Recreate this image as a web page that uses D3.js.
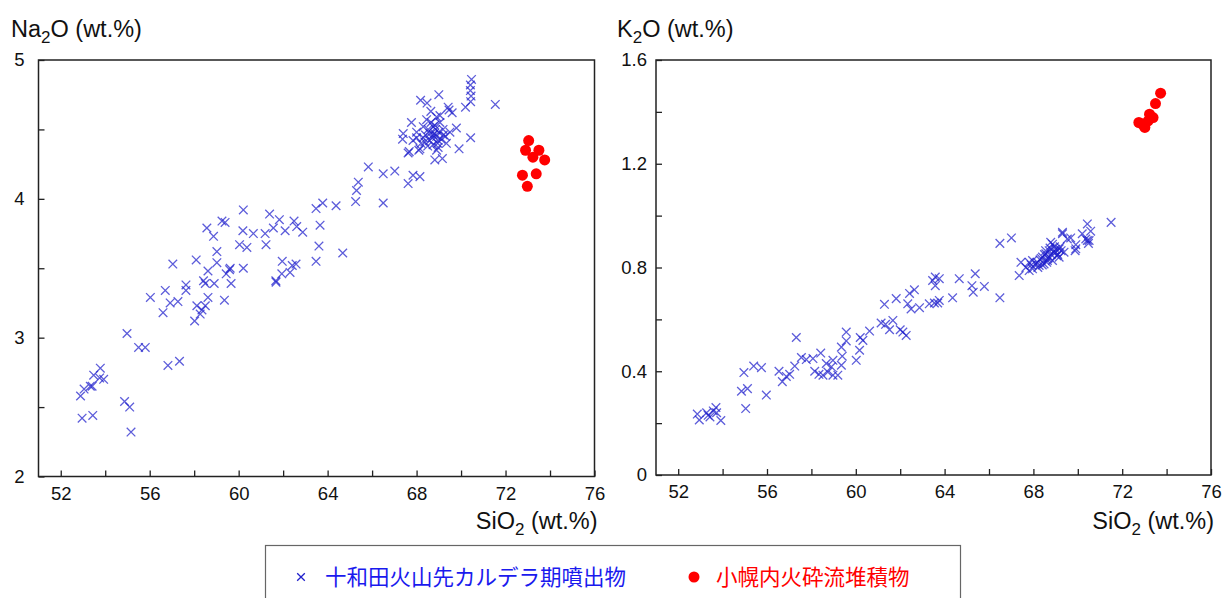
<!DOCTYPE html>
<html><head><meta charset="utf-8">
<script src="https://cdn.jsdelivr.net/npm/d3@7"></script>
<style>
html,body{margin:0;padding:0;background:#fff;}
svg text{font-family:"Liberation Sans",Arial,sans-serif;}
.jp{font-family:"Noto Sans CJK JP","Noto Sans CJK SC",sans-serif;}
</style></head>
<body><svg id="c" width="1225" height="598"></svg>
<script>
// ---- data ----
const siDomain = [51, 76];
const siTicks = [52,54,56,58,60,62,64,66,68,70,72,74,76];
const naDomain = [2, 5];
const naTicks = [2,2.5,3,3.5,4,4.5,5];
const kDomain = [0, 1.6];
const kTicks = [0,0.2,0.4,0.6,0.8,1.0,1.2,1.4,1.6];
const seriesNames = ["十和田火山先カルデラ期噴出物", "小幌内火砕流堆積物"];

// Towada pre-caldera ejecta: [SiO2, Na2O]
const towadaNa = [
[52.89,2.58],[53.05,2.63],[53.33,2.65],[53.41,2.65],[53.48,2.73],[53.78,2.78],[53.75,2.71],[53.93,2.70],
[52.96,2.42],[53.44,2.44],[54.87,2.54],[55.1,2.50],[55.16,2.32],[54.98,3.03],[55.5,2.93],[55.8,2.93],
[56.82,2.80],[57.34,2.83],[56.03,3.29],[56.6,3.18],[56.7,3.34],[56.92,3.25],[57.27,3.26],[57.04,3.53],
[57.63,3.38],[57.63,3.34],[58.09,3.56],[58.02,3.12],[58.12,3.23],[58.35,3.20],[58.27,3.17],[58.5,3.23],
[58.62,3.29],[58.42,3.41],[58.5,3.39],[58.9,3.39],[58.62,3.48],[59.02,3.54],[59.02,3.62],[59.36,3.27],
[59.44,3.46],[59.59,3.49],[59.66,3.39],[60.21,3.50],[61.67,3.41],[61.96,3.55],[61.94,3.46],[62.31,3.47],
[62.41,3.52],[62.58,3.53],[63.48,3.55],[58.57,3.79],[58.87,3.73],[59.25,3.84],[59.39,3.83],[60.21,3.92],
[60.19,3.77],[60.04,3.67],[60.37,3.65],[60.66,3.75],[59.62,3.50],[61.39,3.89],[61.83,3.85],[61.56,3.79],
[61.19,3.75],[61.23,3.67],[62.09,3.77],[62.49,3.84],[62.61,3.80],[62.88,3.76],[61.68,3.40],[63.48,3.93],
[63.78,3.97],[63.66,3.81],[63.61,3.66],[64.68,3.61],[64.38,3.95],[65.26,3.98],[65.30,4.06],[65.38,4.12],
[65.83,4.23],[66.5,4.18],[66.5,3.97],[67.02,4.20],[67.62,4.11],[67.84,4.17],[68.15,4.16],[67.62,4.33],
[70.47,4.86],[70.42,4.82],[70.42,4.78],[70.45,4.74],[70.43,4.70],[70.2,4.66],[71.54,4.68],[69.0,4.75],
[68.18,4.71],[68.47,4.69],[69.42,4.66],[69.46,4.64],[68.64,4.63],[67.77,4.55],[67.40,4.47],[67.37,4.43],
[67.67,4.34],[68.0,4.44],[68.3,4.52],[68.45,4.57],[68.82,4.53],[69.05,4.55],[69.19,4.50],[69.34,4.40],
[68.97,4.37],[68.82,4.28],[69.16,4.29],[68.15,4.36],[69.79,4.51],[69.91,4.36],[70.43,4.44],[68.59,4.42],
[68.74,4.46],[68.97,4.42],[68.37,4.41],[68.52,4.50],[68.9,4.59],[68.74,4.39],[67.84,4.42],
[68.8,4.47],[68.9,4.45],[68.7,4.44],[69.0,4.48],[68.85,4.50],[68.6,4.47],[69.1,4.43],[68.95,4.40],
[68.75,4.52],[69.2,4.46],[68.5,4.38],[68.4,4.46],[68.65,4.55],[69.05,4.60],[68.9,4.35],[69.3,4.45],
[68.3,4.44],[68.2,4.40],[68.0,4.48],[68.1,4.35],[69.6,4.62],[69.5,4.48]
];
// Towada pre-caldera ejecta: [SiO2, K2O]
const towadaK = [
[52.86,0.235],[52.95,0.212],[53.28,0.24],[53.35,0.23],[53.43,0.224],[53.58,0.247],[53.70,0.26],[53.73,0.24],
[53.92,0.21],[54.96,0.395],[54.85,0.323],[55.12,0.333],[55.04,0.256],[55.4,0.42],[55.75,0.414],[55.97,0.308],
[56.54,0.40],[56.69,0.36],[56.87,0.38],[57.02,0.388],[57.25,0.42],[57.32,0.53],[57.55,0.453],[57.77,0.445],
[58.07,0.449],[58.15,0.40],[58.42,0.47],[58.34,0.388],[58.52,0.385],[58.67,0.43],[58.74,0.397],[58.97,0.442],
[58.90,0.417],[58.97,0.385],[59.19,0.385],[59.35,0.423],[59.39,0.458],[59.35,0.493],[59.57,0.517],[59.57,0.551],
[60.02,0.442],[60.17,0.481],[60.20,0.53],[60.32,0.519],[60.62,0.555],[61.14,0.586],[61.34,0.581],[61.52,0.56],
[61.67,0.596],[61.29,0.658],[61.82,0.68],[62.0,0.56],[62.27,0.538],[62.12,0.551],[62.34,0.66],[62.42,0.70],
[62.64,0.714],[62.49,0.64],[62.87,0.645],[63.46,0.75],[63.58,0.763],[63.54,0.663],[63.69,0.663],[63.31,0.66],
[63.76,0.673],[63.58,0.73],[64.36,0.683],[64.66,0.757],[65.38,0.776],[65.23,0.73],[65.29,0.705],[65.79,0.727],
[66.49,0.683],[66.49,0.893],[67.01,0.914],[67.36,0.769],[67.44,0.82],[67.66,0.80],[67.81,0.788],[67.96,0.827],
[68.18,0.82],[68.41,0.84],[68.56,0.853],[68.71,0.865],[68.86,0.89],[69.01,0.859],[69.16,0.872],[69.31,0.93],
[69.53,0.91],[69.91,0.872],[70.2,0.93],[70.43,0.904],[68.26,0.808],[67.96,0.795],[68.63,0.827],[68.86,0.827],
[67.81,0.82],[68.48,0.814],[68.78,0.897],[69.16,0.84],[69.38,0.859],[70.43,0.968],[71.5,0.974],[70.58,0.94],
[70.36,0.91],[69.88,0.865],[69.91,0.888],[69.68,0.914],[69.31,0.936],[70.51,0.904],[70.48,0.893],[63.76,0.757],
[68.3,0.83],[68.5,0.85],[68.7,0.84],[68.9,0.86],[69.0,0.87],[68.6,0.82],[68.4,0.81],[68.8,0.85],
[69.1,0.85],[68.95,0.88],[68.2,0.80],[68.1,0.815],[68.65,0.835],[69.2,0.88],[68.55,0.865],[69.05,0.845],
[68.35,0.835],[68.75,0.875],[67.9,0.81],[69.25,0.865]
];
// Kohoronai pyroclastic flow deposit
const kohoronaiNa = [[73.04,4.42],[72.9,4.35],[73.5,4.35],[73.23,4.30],[73.76,4.28],[72.76,4.17],[73.38,4.18],[72.98,4.09]];
const kohoronaiK = [[73.73,1.472],[73.5,1.432],[73.23,1.391],[73.39,1.378],[72.75,1.359],[72.9,1.353],[73.02,1.34],[73.17,1.365]];

// ---- drawing ----
const svg = d3.select("#c");
const blue = "#1f1fcc", red = "#ff0000";

function panel(cfg){
  const {x0,x1,y0,y1} = cfg;
  const x = d3.scaleLinear().domain(siDomain).range([x0,x1]);
  const y = d3.scaleLinear().domain(cfg.yDomain).range([y1,y0]);
  const g = svg.append("g");
  g.append("rect").attr("x",x0).attr("y",y0).attr("width",x1-x0).attr("height",y1-y0)
    .attr("fill","none").attr("stroke","#222").attr("stroke-width",1.5);
  const xa = g.append("g").attr("transform",`translate(0,${y1})`)
    .call(d3.axisBottom(x).tickValues(siTicks).tickSizeInner(-6).tickSizeOuter(0).tickPadding(10)
      .tickFormat(d => d % 4 === 0 ? d : ""));
  xa.select(".domain").remove();
  xa.selectAll("line").attr("stroke","#222").attr("stroke-width",1.3);
  xa.selectAll("text").attr("font-size",18.5).attr("fill","#111").attr("font-family","Liberation Sans, Arial, sans-serif");
  const ya = g.append("g").attr("transform",`translate(${x0},0)`)
    .call(d3.axisLeft(y).tickValues(cfg.yTicks).tickSizeInner(-6).tickSizeOuter(0).tickPadding(cfg.yPad)
      .tickFormat(cfg.yFmt));
  ya.select(".domain").remove();
  ya.selectAll("line").attr("stroke","#222").attr("stroke-width",1.3);
  ya.selectAll("text").attr("font-size",18.5).attr("fill","#111").attr("font-family","Liberation Sans, Arial, sans-serif");
  const yt = g.append("text").attr("x",cfg.titleX).attr("y",37).attr("font-size",23.5).attr("fill","#111");
  yt.append("tspan").text(cfg.elem);
  yt.append("tspan").attr("font-size",17).attr("dy",6).text("2");
  yt.append("tspan").attr("dy",-6).text("O (wt.%)");
  const xt = g.append("text").attr("x",x1+3).attr("y",529).attr("text-anchor","end").attr("font-size",23.5).attr("fill","#111");
  xt.append("tspan").text("SiO");
  xt.append("tspan").attr("font-size",17).attr("dy",6).text("2");
  xt.append("tspan").attr("dy",-6).text(" (wt.%)");
  const s = 4.3;
  g.append("g").selectAll("path").data(cfg.blue).join("path")
    .attr("d", d => { const px=x(d[0]), py=y(d[1]);
      return `M${px-s},${py-s}L${px+s},${py+s}M${px-s},${py+s}L${px+s},${py-s}`; })
    .attr("stroke",blue).attr("stroke-width",1.3).attr("stroke-opacity",0.72).attr("fill","none");
  g.append("g").selectAll("circle").data(cfg.red).join("circle")
    .attr("cx", d => x(d[0])).attr("cy", d => y(d[1])).attr("r",5.5).attr("fill",red);
}

panel({x0:38.5,x1:594.5,y0:60,y1:476.5,yDomain:naDomain,yTicks:naTicks,yPad:14,
  yFmt:d=>Number.isInteger(d)?d:"", elem:"Na", titleX:11, blue:towadaNa, red:kohoronaiNa});
panel({x0:656,x1:1211,y0:60,y1:475,yDomain:kDomain,yTicks:kTicks,yPad:9,
  yFmt:d=>(Math.round(d*10)%4===0)?(d===0?"0":d3.format(".1f")(d)):"", elem:"K", titleX:617, blue:towadaK, red:kohoronaiK});

// legend
const lg = svg.append("g");
lg.append("rect").attr("x",265.5).attr("y",545.5).attr("width",695).attr("height",70)
  .attr("fill","#fff").attr("stroke","#666").attr("stroke-width",1.2);
const lx = 301, ly = 577, ls = 3.8;
lg.append("path").attr("d",`M${lx-ls},${ly-ls}L${lx+ls},${ly+ls}M${lx-ls},${ly+ls}L${lx+ls},${ly-ls}`)
  .attr("stroke",blue).attr("stroke-width",1.3);
lg.append("text").attr("class","jp").attr("x",325).attr("y",ly+7.5).attr("font-size",21.5).attr("fill","#1a1aee").text(seriesNames[0]);
lg.append("circle").attr("cx",694).attr("cy",ly).attr("r",5.5).attr("fill",red);
lg.append("text").attr("class","jp").attr("x",716).attr("y",ly+7.5).attr("font-size",21.5).attr("fill",red).text(seriesNames[1]);
</script></body></html>
